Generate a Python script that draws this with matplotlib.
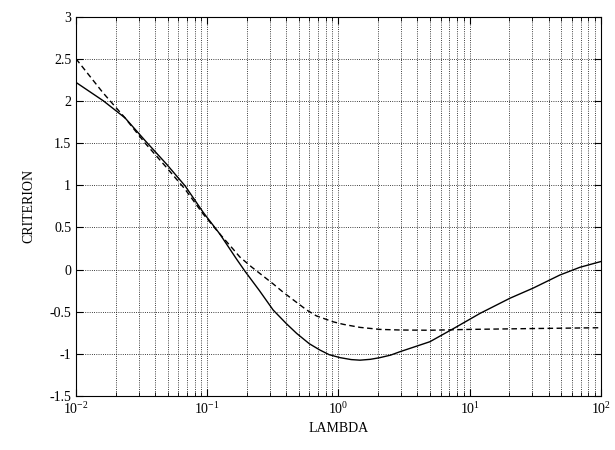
import numpy as np
import matplotlib
matplotlib.use('Agg')
import matplotlib.pyplot as plt

plt.rcParams['font.family'] = ['Liberation Serif', 'DejaVu Serif']
plt.rcParams['mathtext.fontset'] = 'custom'
plt.rcParams['mathtext.rm'] = 'Liberation Serif'
plt.rcParams['mathtext.it'] = 'Liberation Serif:italic'

# Curva continua
lam_solido = [0.01, 0.0162, 0.0236, 0.0336, 0.049, 0.068, 0.093, 0.125, 0.168,
              0.194, 0.25, 0.318, 0.4, 0.48, 0.6, 0.723, 0.85, 1.03, 1.25,
              1.46, 1.75, 2.07, 2.5, 2.94, 4.98, 7.94, 12.0, 20.3, 30.5,
              48.7, 69.0, 100.0]
crit_solido = [2.22, 2.00, 1.80, 1.53, 1.25, 0.99, 0.68, 0.42, 0.12,
               -0.02, -0.25, -0.48, -0.64, -0.757, -0.88, -0.955, -1.01, -1.045, -1.068,
               -1.075, -1.065, -1.045, -1.015, -0.975, -0.856, -0.68, -0.52, -0.34, -0.22,
               -0.065, 0.026, 0.095]

# Curva discontinua
lam_guion = [0.01, 0.016, 0.0236, 0.0336, 0.049, 0.068, 0.093, 0.125, 0.158,
             0.177, 0.218, 0.318, 0.38, 0.573, 0.68, 0.912, 1.09, 1.46, 2.07,
             2.94, 5.0, 10.0, 30.0, 100.0]
crit_guion = [2.5, 2.10, 1.80, 1.50, 1.21, 0.95, 0.66, 0.42, 0.24,
              0.15, 0.03, -0.17, -0.27, -0.48, -0.55, -0.62, -0.65, -0.686, -0.71,
              -0.717, -0.72, -0.71, -0.70, -0.69]

fig = plt.figure(figsize=(6.15, 4.5), dpi=100)
ax = fig.add_axes([0.1236, 0.12, 0.8534, 0.843])

ax.semilogx(lam_solido, crit_solido, color='black', linewidth=1.0, linestyle='-')
ax.semilogx(lam_guion, crit_guion, color='black', linewidth=1.0, linestyle=(0, (4, 2.5)))

ax.set_xlim(1e-2, 1e2)
ax.set_ylim(-1.5, 3)
ax.set_yticks(np.arange(-1.5, 3.01, 0.5))
ax.set_yticklabels(['-1.5', '-1', '-0.5', '0', '0.5', '1', '1.5', '2', '2.5', '3'])

ax.grid(True, which='both', color='black', linestyle=':', linewidth=0.6)
ax.tick_params(which='both', direction='in', labelsize=10, top=True, right=True)
ax.tick_params(which='major', length=5)
ax.tick_params(which='minor', length=3)

ax.set_xlabel('LAMBDA', fontsize=10, labelpad=4)
ax.set_ylabel('CRITERION', fontsize=10, labelpad=10)

fig.savefig('out.png', dpi=100)
